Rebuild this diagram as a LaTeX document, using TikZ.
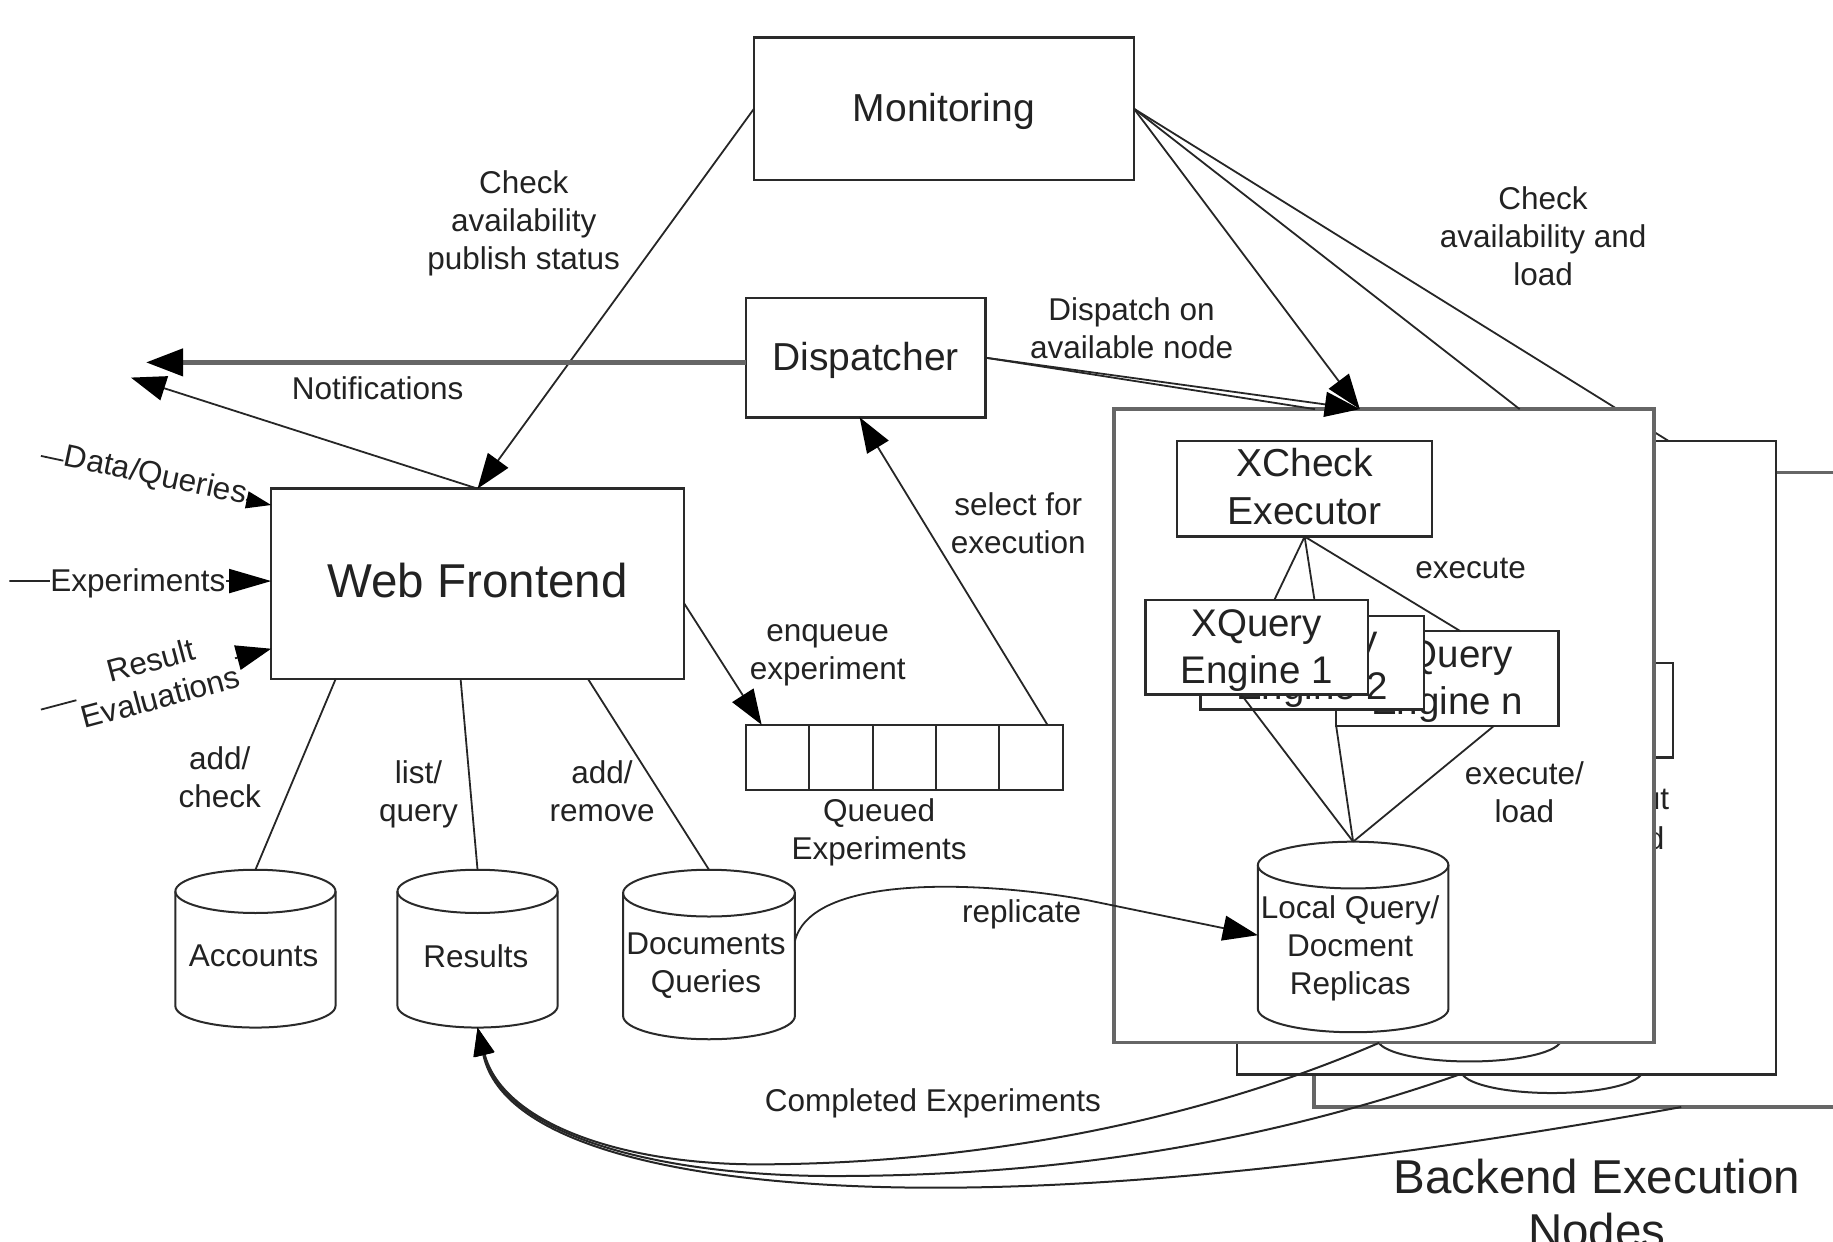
\documentclass[tikz,border=0pt]{standalone}
\usepackage{fontspec}
\setmainfont{Liberation Sans}
\usetikzlibrary{arrows.meta,calc}
\definecolor{ink}{HTML}{222222}
\definecolor{edge}{HTML}{2A2A2A}
\definecolor{heavy}{HTML}{666666}
\newcommand{\fsmall}{\fontsize{31.5}{38}\selectfont}
\newcommand{\fmid}{\fontsize{39}{48}\selectfont}
\newcommand{\fqry}{\fontsize{38.5}{47}\selectfont}
\newcommand{\fbig}{\fontsize{47.5}{54}\selectfont}
\tikzset{
  sized/.style 2 args={minimum width=#1*1.169pt,minimum height=#2*1.169pt},
  boxnode/.style={draw=edge,line width=2.4pt,fill=white,inner sep=0pt,outer sep=0pt,text=ink,align=center},
  panel/.style={boxnode,draw=heavy,line width=3.4pt},
  cellbox/.style={boxnode,line width=2pt},
  drumline/.style={draw=edge,line width=2pt,fill=white},
  lbl/.style={font=\fsmall,text=ink,align=center,inner sep=0pt},
  wlbl/.style={lbl,fill=white,inner sep=0.5pt},
  conn/.style={draw=black!85,line width=1.8pt},
  bigarrow/.style={conn,-{Triangle[length=35pt,width=25pt,color=black,fill=black]}},
  exparrow/.style={conn,-{Triangle[length=42pt,width=24pt,color=black,fill=black]}},
  smallarrow/.style={conn,-{Triangle[length=25pt,width=17pt,color=black,fill=black]}},
  backarrow/.style={conn,line width=2pt,-{Triangle[length=28pt,width=20pt,color=black,fill=black]}},
  fatline/.style={draw=heavy,line width=4.5pt,-{Triangle[length=37pt,width=27pt,color=black,fill=black]}}
}
% \drum{name}{centre x}{top}{width}{height}{end radius}
\newcommand{\drum}[6]{%
  \pgfmathsetmacro{\drx}{#4/2}%
  \pgfmathsetmacro{\dkx}{#4/2*0.5523}%
  \pgfmathsetmacro{\dky}{#6*0.5523}%
  \pgfmathsetmacro{\dside}{#5-2*#6}%
  \node[sized={#4}{#5},inner sep=0pt,outer sep=0pt,anchor=north] (#1) at (#2,#3) {};
  \path[drumline] (#2-\drx,#3+#6) -- ++(0,\dside)
    .. controls +(0,\dky) and +(-\dkx,0) .. ++(\drx,#6)
    .. controls +(\dkx,0) and +(0,\dky) .. ++(\drx,-#6)
    -- ++(0,-\dside)
    .. controls +(0,-\dky) and +(\dkx,0) .. ++(-\drx,-#6)
    .. controls +(-\dkx,0) and +(0,-\dky) .. ++(-\drx,#6) -- cycle;
  \path[drumline,fill=none] (#2-\drx,#3+#6)
    .. controls +(0,\dky) and +(-\dkx,0) .. ++(\drx,#6)
    .. controls +(\dkx,0) and +(0,\dky) .. ++(\drx,-#6);
}
\begin{document}
\begin{tikzpicture}[x=1.169pt,y=-1.169pt]
\useasboundingbox (0,0) rectangle (1568,1062.4);

\node[boxnode,sized={325}{122},font=\fmid] (mon) at (807.5,93) {\rule{0pt}{33pt}Monitoring};
\coordinate (far) at (1427,377);

% monitoring line that runs behind the execution nodes
\node[panel,sized={462}{543}] (box3) at (1355,675.5) {};
\draw[conn] (mon.east) -- (far);

% third and second execution nodes
\drum{cyl3}{1327.5}{772}{155}{163}{19}
\node[boxnode,sized={461}{542}] (box2) at (1288.5,648) {};
\drum{cyl2}{1257}{745}{157}{163}{19}
\node[boxnode,sized={190}{81}] (eng2n) at (1336,607.5) {};
\node[lbl,anchor=east] (frag1) at (1428,684) {ut};
\node[lbl,anchor=east] (frag2) at (1424,717) {d};

% front execution node
\node[panel,sized={462}{542}] (front) at (1184,621) {};
\draw[conn] (mon.east) -- ($(front.north west)!.751!(front.north east)$);
\draw[bigarrow] (mon.east) -- ($(front.north west)!.455!(front.north east)$);

\node[boxnode,sized={218}{82},font=\fmid] (xcheck) at (1116,418) {XCheck\\Executor\rule[-4.6pt]{0pt}{0pt}};
\node[boxnode,sized={190}{81},font=\fqry] (engn) at (1238,580.5) {\rule{0pt}{33.5pt}XQuery\\Engine n};
\node[boxnode,sized={191}{80},font=\fqry] (eng2) at (1122.5,567) {\rule{0pt}{33.5pt}XQuery\\Engine 2};
\node[boxnode,sized={190}{81},font=\fqry] (eng1) at (1075,553.5) {\rule{0pt}{33.5pt}XQuery\\Engine 1};
\drum{local}{1157.5}{720}{163}{163}{20}
\node[lbl] (localtxt) at (1155,811) {Local Query/\\Docment\\Replicas};

\draw[conn] (xcheck.south) -- ($(eng1.north west)!.58!(eng1.north east)$);
\draw[conn] (xcheck.south) -- ($(eng1.north west)!.76!(eng1.north east)$);
\draw[conn] (xcheck.south) -- ($(engn.north west)!.56!(engn.north east)$);
\draw[conn] ($(eng1.south west)!.43!(eng1.south east)$) -- (local.north);
\draw[conn] (engn.south west) -- (local.north);
\draw[conn] ($(engn.south west)!.71!(engn.south east)$) -- (local.north);
\node[lbl] (lexec) at (1258,486) {execute};
\node[lbl] (lload) at (1304,678) {execute/\\load};

% dispatcher and web frontend
\node[boxnode,sized={205}{102},font=\fmid] (disp) at (740.5,306) {\rule{0pt}{33.5pt}Dispatcher};
\node[boxnode,sized={353}{163},font=\fbig] (web) at (408.5,499.5) {\raisebox{8pt}{Web Frontend}};
\coordinate (notif1) at (125,310);
\coordinate (notif2) at (112,323);
\coordinate (src1) at (35,390);
\coordinate (src2) at (8,497);
\coordinate (src3) at (35,607);

\draw[bigarrow] (mon.west) -- (web.north);
\draw[fatline] (disp.west |- notif1) -- (notif1);
\draw[bigarrow] (web.north) -- (notif2);
\draw[conn] (disp.east) -- ($(front.north west)!.372!(front.north east)$);
\draw[bigarrow] (disp.east) -- ($(front.north west)!.455!(front.north east)$);

\draw[smallarrow] (src1) -- ($(web.north west)!.086!(web.south west)$);
\draw[exparrow] (src2) -- ($(web.north west)!.485!(web.south west)$);
\draw[bigarrow] (src3) -- ($(web.north west)!.84!(web.south west)$);
\node[wlbl,rotate=-12] (ldata) at (133,407.5) {Data/Queries};
\node[wlbl] (lexp) at (118,499) {Experiments};
\node[wlbl,rotate=15] (lres) at (133,580.5) {Result\\Evaluations};

% queue
\node[cellbox,sized={54.2}{56}] (q1) at (665.1,648) {};
\node[cellbox,sized={54.2}{56}] (q2) at (719.3,648) {};
\node[cellbox,sized={54.2}{56}] (q3) at (773.5,648) {};
\node[cellbox,sized={54.2}{56}] (q4) at (827.7,648) {};
\node[cellbox,sized={54.2}{56}] (q5) at (881.9,648) {};
\draw[bigarrow] ($(web.north east)!.60!(web.south east)$) -- ($(q1.north west)!.25!(q1.north east)$);
\draw[bigarrow] ($(q5.north west)!.76!(q5.north east)$) -- ($(disp.south west)!.475!(disp.south east)$);

% stores
\drum{acc}{218.5}{744}{137}{135}{18.5}
\node[lbl] (acctxt) at (217,818) {Accounts};
\drum{res}{408.5}{744}{137}{135}{18.5}
\node[lbl] (restxt) at (407,818) {Results};
\drum{doc}{606.5}{744}{147}{145}{20}
\node[lbl] (doctxt) at (604,826) {Documents\\Queries};
\draw[conn] ($(web.south west)!.156!(web.south east)$) -- (acc.north);
\draw[conn] ($(web.south west)!.459!(web.south east)$) -- (res.north);
\draw[conn] ($(web.south west)!.768!(web.south east)$) -- (doc.north);

% replicate
\draw[bigarrow] ($(doc.north east)!.42!(doc.south east)$) .. controls (695,745) and (850,755) .. (930,770) -- (local.west |- 0,800);

% completed experiments
\draw[backarrow] ($(front.south west)!.491!(front.south east)$) .. controls (1000,970) and (800,996) .. (648,996) .. controls (530,996) and (430,960) .. (res.south);
\draw[backarrow] ($(box2.south west)!.414!(box2.south east)$) .. controls (1060,985) and (880,1006) .. (713,1006) .. controls (560,1006) and (430,970) .. (res.south);
\draw[backarrow] ($(box3.south west)!.68!(box3.south east)$) .. controls (1200,990) and (980,1016) .. (800,1016) .. controls (590,1016) and (430,980) .. (res.south);

% labels
\node[lbl] (lcheck) at (448,191) {Check\\availability\\publish status};
\node[lbl] (lnotif) at (323,332) {Notifications};
\node[lbl] (lcheck2) at (1320,202) {Check\\availability and\\load};
\node[lbl] (ldisp) at (968,281) {Dispatch on\\available node};
\node[lbl] (lsel) at (871,448) {select for\\execution};
\node[lbl] (lenq) at (708,560.5) {enqueue\\experiment};
\node[lbl] (lque) at (752,712) {Queued\\Experiments};
\node[lbl] (ladd) at (188,665) {add/\\check};
\node[lbl] (llist) at (358,679.5) {list/\\query};
\node[lbl] (lrem) at (515,677) {add/\\remove};
\node[lbl] (lrep) at (874,782) {replicate};
\node[lbl] (lcomp) at (798,944) {Completed Experiments};
\node[text=ink,font=\fbig,align=center,inner sep=0pt,anchor=north] (lback) at (1366,991) {Backend Execution\\Nodes};
\end{tikzpicture}
\end{document}
